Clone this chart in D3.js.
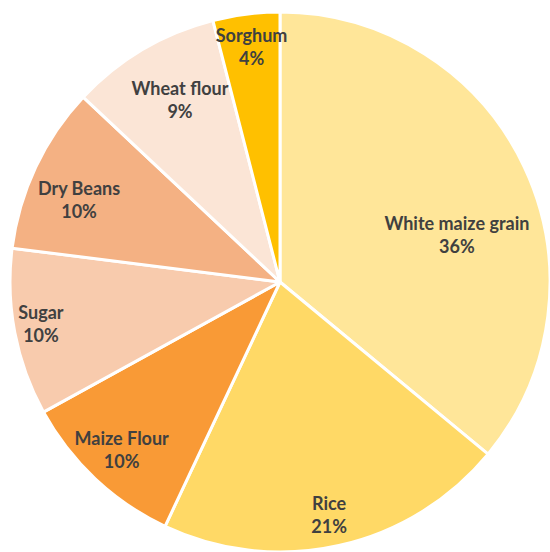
<!DOCTYPE html>
<html><head><meta charset="utf-8">
<script src="https://cdn.jsdelivr.net/npm/d3@7/dist/d3.min.js"></script>
<style>body{margin:0;background:#fff}svg{display:block}</style>
</head><body>
<script>
const categories = ["White maize grain","Rice","Maize Flour","Sugar","Dry Beans","Wheat flour","Sorghum"];
const values = [36,21,10,10,10,9,4];
const colors = ["#FFE699","#FFD966","#F99A36","#F8CBAD","#F4B183","#FBE5D6","#FFC000"];
const labelRadius = [0.678,0.882,0.855,0.899,0.804,0.769,0.877];
const labelAngleShift = [10.3,0.7,0.1,0.8,-3,1.8,0.3];

const W=550,H=552,cx=280,cy=282,R=270;
const svg=d3.select("body").append("svg").attr("width",W).attr("height",H);
const g=svg.append("g").attr("transform",`translate(${cx},${cy})`);
const pie=d3.pie().sort(null).value(d=>d)(values);
const arc=d3.arc().innerRadius(0).outerRadius(R);
g.selectAll("path").data(pie).join("path")
 .attr("d",arc).attr("fill",(d,i)=>colors[i])
 .attr("stroke","#fff").attr("stroke-width",3).attr("stroke-linejoin","round");
const lab=g.selectAll("text").data(pie).join("text")
 .attr("transform",(d,i)=>{
   const a=(d.startAngle+d.endAngle)/2+labelAngleShift[i]*Math.PI/180;
   const r=R*labelRadius[i];
   return `translate(${r*Math.sin(a)},${-r*Math.cos(a)})`;})
 .attr("text-anchor","middle").attr("font-family","Lato, 'Open Sans', sans-serif")
 .attr("font-weight","bold").attr("font-size",18).attr("fill","#404040");
lab.append("tspan").attr("x",0).attr("y",-5).text((d,i)=>categories[i]);
lab.append("tspan").attr("x",0).attr("y",18).text(d=>d.data+"%");
</script>
</body></html>
